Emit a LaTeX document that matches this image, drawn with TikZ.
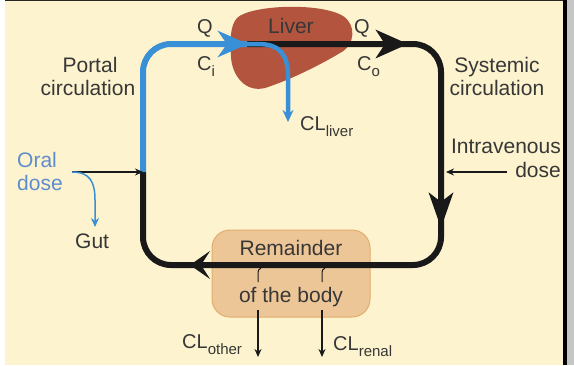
\documentclass[tikz,border=0pt]{standalone}
\usepackage{fontspec}
\setmainfont{Liberation Sans}
\usetikzlibrary{arrows.meta}
\definecolor{cream}{RGB}{253,243,206}
\definecolor{bluec}{RGB}{58,144,214}
\definecolor{liverc}{RGB}{178,84,62}
\definecolor{remfill}{RGB}{237,198,152}
\definecolor{remdraw}{RGB}{226,172,108}
\definecolor{txt}{RGB}{55,55,55}
\definecolor{oralc}{RGB}{95,140,205}
\definecolor{loopc}{RGB}{25,25,25}
\newcommand\lowtxt[1]{\raisebox{-0.3em}{\fontsize{15}{15}\selectfont #1}}
\begin{document}
\begin{tikzpicture}[x=1pt,y=-1pt,
  lbl/.style={font=\fontsize{21}{23}\selectfont, text=txt, inner sep=0pt},
  sml/.style={font=\fontsize{20}{22}\selectfont, text=txt, inner sep=0pt},
  mainloop/.style={draw=loopc, line width=6pt, rounded corners=28pt},
  bluemain/.style={draw=bluec, line width=6pt, rounded corners=28pt},
  thin/.style={draw=loopc, line width=1.2pt, -{Stealth[length=8pt,width=7pt]}}]
\useasboundingbox (0,0) rectangle (574,365);
% background
\fill[white] (0,0) rectangle (574,365);
\fill[cream] (5,1) rectangle (563,365);
\fill[black!85] (5,0) rectangle (563,1.2);
\fill[black] (563,0) rectangle (567,365);
\fill[gray!45] (567,0) rectangle (574,365);
% liver shape
\fill[liverc] (237,18) .. controls (250,5) and (320,2) .. (343,16)
  .. controls (356,24) and (356,45) .. (340,53)
  .. controls (320,65) and (290,80) .. (265,88)
  .. controls (245,93) and (232,75) .. (231,57)
  .. controls (230,40) and (230,26) .. (237,18) -- cycle;
% remainder box
\node[draw=remdraw, fill=remfill, rounded corners=18pt, minimum width=158pt,
  minimum height=87pt, line width=1pt, inner sep=0pt] (rem) at (291,273.5) {};
% loop coordinates
\coordinate (jun) at (143,172);
\coordinate (tl) at (143,44);
\coordinate (split) at (247,44);
\coordinate (tr) at (441,44);
\coordinate (br) at (441,265);
\coordinate (bl) at (143,265);
\coordinate (oral) at (72,172);
\coordinate (ivs) at (507,172);
\coordinate (ive) at (446,172);
% loop
\draw[mainloop] (split) -- (tr) -- (br) -- (bl) -- (jun);
\draw[bluemain] (jun) -- (tl) -- (split);
% arrowheads on loop
\draw[draw=loopc, line width=6pt, -{Stealth[length=32pt,width=28pt,inset=9pt]}] (360,44) -- (408,44);
\draw[draw=loopc, line width=6pt, -{Stealth[length=35pt,width=24pt,inset=9pt]}] (441,180) -- (441,228);
\draw[draw=loopc, line width=6pt, -{Stealth[length=20pt,width=28pt,inset=9pt]}] (240,265) -- (190,265);
% blue branch to liver clearance
\draw[draw=bluec, line width=4.5pt, -{Stealth[length=12pt,width=11pt]}] (split) -- (258,44)
  .. controls (280,44) and (288,55) .. (288,76) -- (288,122);
\draw[draw=bluec, line width=6pt, -{Stealth[length=30pt,width=26pt,inset=9pt]}] (200,44) -- (248,44);
% oral dose
\draw[thin] (oral) -- (jun);
\draw[draw=bluec, line width=1.5pt, -{Stealth[length=9pt,width=8pt]}] (oral)
  .. controls (90,172) and (95,182) .. (95,200) -- (95,227);
% IV dose
\draw[thin] (ivs) -- (ive);
% ticks in remainder
\draw[draw=loopc, line width=1pt] (261,268) .. controls (258,269) and (258,271) .. (258,274) -- (258,282);
\draw[draw=loopc, line width=1pt] (325,268) .. controls (322,269) and (322,271) .. (322,274) -- (322,282);
% clearance arrows
\coordinate (o1) at (258,310);
\coordinate (o2) at (258,357);
\coordinate (r1) at (322,310);
\coordinate (r2) at (322,357);
\draw[thin] (o1) -- (o2);
\draw[thin] (r1) -- (r2);
% texts
\node[lbl, anchor=base] (portal1) at (90,72) {Portal};
\node[lbl, anchor=base] (portal2) at (88,95) {circulation};
\node[lbl, anchor=base] (sys1) at (497,72) {Systemic};
\node[lbl, anchor=base] (sys2) at (497,95) {circulation};
\node[lbl, anchor=base east] (iv1) at (561,153) {Intravenous};
\node[lbl, anchor=base east] (iv2) at (561,177) {dose};
\node[lbl, text=oralc, anchor=base west] (or1) at (17,167) {Oral};
\node[lbl, text=oralc, anchor=base west] (or2) at (17,190) {dose};
\node[lbl, anchor=base west] (gut) at (75,248) {Gut};
\node[sml, anchor=base west] (q1) at (197,33) {Q};
\node[sml, anchor=base west] (ci) at (197,70) {C\lowtxt{i}};
\node[lbl, anchor=base west] (liv) at (268,33) {Liver};
\node[sml, anchor=base west] (q2) at (354,33) {Q};
\node[sml, anchor=base west] (co) at (357,70) {C\lowtxt{o}};
\node[sml, anchor=base west] (cll) at (300,130) {CL\lowtxt{liver}};
\node[lbl, anchor=base] (rem1) at (291,255) {Remainder};
\node[lbl, anchor=base] (rem2) at (291,302) {of the body};
\node[sml, anchor=base west] (clo) at (182,348) {CL\lowtxt{other}};
\node[sml, anchor=base west] (clr) at (333,350) {CL\lowtxt{renal}};
\end{tikzpicture}
\end{document}
